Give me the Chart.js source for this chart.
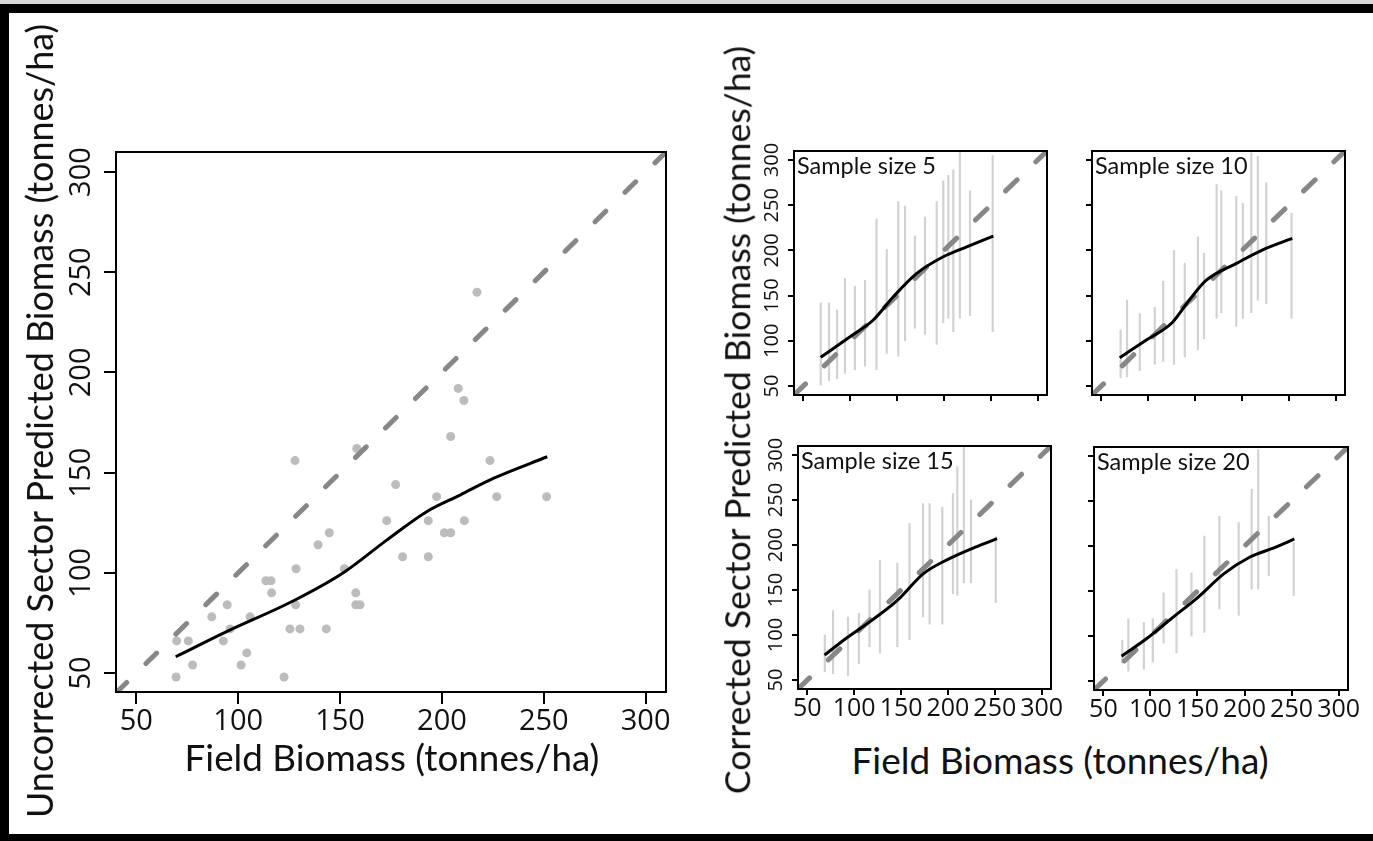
<!DOCTYPE html>
<html lang="en">
<head>
<meta charset="UTF-8">
<title>Field vs predicted biomass</title>
<script src="https://cdn.jsdelivr.net/npm/chart.js"></script>
<style>
  body { margin: 0; background: #fff; }
  #wrap { position: relative; width: 1373px; height: 841px; overflow: hidden; background: #fff; }
  #wrap canvas { position: absolute; }
  .bar { position: absolute; background: #000; }
  .ttl { position: absolute; white-space: nowrap; color: #111; line-height: 1; font-family: Lato, 'Open Sans', sans-serif;
         transform: translate(-50%, -50%); }
  .ttl.v { transform: translate(-50%, -50%) rotate(-90deg); }
</style>
</head>
<body>
<div id="wrap">
  <div class="bar" style="left:0;top:0;width:1373px;height:4px;background:#d8d8d8"></div>
  <div class="bar" style="left:0;top:4px;width:1373px;height:9px"></div>
  <div class="bar" style="left:0;top:4px;width:9px;height:837px"></div>
  <div class="bar" style="left:0;top:834px;width:1373px;height:7px"></div>

  <canvas id="big" width="700" height="800" style="left:0;top:0"></canvas>
  <canvas id="p5"></canvas>
  <canvas id="p10"></canvas>
  <canvas id="p15"></canvas>
  <canvas id="p20"></canvas>

  <div class="ttl v" id="tUy" style="left:40px;top:421px">Uncorrected Sector Predicted Biomass (tonnes/ha)</div>
  <div class="ttl" id="tUx" style="left:392px;top:757px">Field Biomass (tonnes/ha)</div>
  <div class="ttl v" id="tCy" style="left:737px;top:420px">Corrected Sector Predicted Biomass (tonnes/ha)</div>
  <div class="ttl" id="tCx" style="left:1060px;top:759px">Field Biomass (tonnes/ha)</div>
</div>

<script>
  // ---- left panel: field plots vs uncorrected sector prediction
  const fieldX = [208.0, 210.8, 204.3, 127.9, 158.2, 223.6, 177.3, 197.4, 226.9, 251.4,
                  172.9, 193.3, 211.0, 201.2, 204.3, 144.7, 139.2, 180.7, 193.3, 152.1,
                  128.4, 113.6, 116.1, 116.4, 157.7, 157.7, 159.8, 94.6, 128.2, 87.0,
                  105.8, 96.0, 125.4, 130.3, 143.2, 69.8, 75.5, 92.7, 104.2, 77.6,
                  101.4, 69.5, 122.5, 217.2];
  const uncorrY = [192, 186, 168, 156, 162, 156, 144, 138, 138, 138,
                   126, 126, 126, 120, 120, 120, 114, 108, 108, 102,
                   102, 96, 96, 90, 90, 84, 84, 84, 84, 78,
                   78, 72, 72, 72, 72, 66, 66, 66, 60, 54,
                   54, 48, 48, 240];
  const fitX = [69.3, 94.3, 127.9, 151.6, 172.9, 192.5, 208.9, 225.2, 251.7];
  const fitY = [58.1, 70.6, 86.4, 100.0, 116.3, 130.5, 138.8, 147.1, 157.9];

  // 1:1 reference line
  const oneToOne = [40, 310];
  const tickVals = [50, 100, 150, 200, 250, 300];

  // ---- right panels: spread of corrected predictions per field plot (min/max) and smoother
  const s5X  = [68.5, 77.4, 86, 94.4, 105, 115.8, 128, 139, 151.3, 158.5, 169, 179.8, 192.3, 199.3, 204.7, 210, 217, 227.8, 252];
  const s5Lo = [51, 56, 58, 64, 68, 72, 68, 86, 83, 100, 114, 107, 96, 120, 125, 110, 125, 128, 110];
  const s5Hi = [142, 142, 134, 169, 160, 167, 235, 201, 254, 249, 216, 237, 254, 277, 283, 289, 311, 266, 305];
  const f5X  = [68.5, 99.8, 124.6, 146, 171, 199.3, 224.3, 252.7];
  const f5Y  = [81.7, 104.5, 123, 148.7, 174.6, 193, 204, 215.9];

  const s10X  = [70.5, 77.4, 91, 107, 116, 127.5, 139, 153, 159.5, 173, 178, 194, 201, 210, 217, 226, 253];
  const s10Lo = [59, 60, 67, 74, 77, 74, 82, 90, 102, 125, 131, 116, 125, 131, 145, 141, 125];
  const s10Hi = [112, 145, 130, 137, 166, 200, 186, 215, 197, 273, 266, 260, 252, 308, 304, 275, 241];
  const f10X  = [69.6, 98, 125.4, 143.8, 162, 194.2, 221.6, 253.7];
  const f10Y  = [81.3, 100.8, 120, 145, 167, 185.7, 200.4, 213.3];

  const s15X  = [68.6, 77.4, 93.4, 105, 116.3, 127.5, 146, 159, 173.4, 180.4, 194, 205.4, 210, 217, 224.6, 251];
  const s15Lo = [59, 57, 55, 68, 87, 80, 87, 95, 120, 112, 112, 146, 144, 158, 158, 136];
  const s15Hi = [100, 127, 120, 124, 150, 183, 180, 224, 246, 246, 242, 257, 287, 309, 250, 209];
  const f15X  = [68.3, 91.1, 118.7, 146, 173.6, 201, 228.6, 252.4];
  const f15Y  = [77.6, 96.1, 116.3, 138.5, 168, 184.6, 197.4, 207];

  const s20X  = [70, 76.5, 93, 102.5, 114, 127.7, 143.6, 157.3, 173.3, 193.8, 207.6, 214.5, 225.8, 252.3];
  const s20Lo = [70, 61, 63, 71, 92, 81, 100, 104, 130, 123, 152, 152, 167, 145];
  const s20Hi = [95, 119, 115, 119, 148, 174, 170, 211, 233, 226, 263, 307, 233, 204];
  const f20X  = [69.3, 95.7, 123, 150.5, 177.9, 205.3, 232.6, 253];
  const f20Y  = [77.6, 96.9, 120, 143, 169, 187.5, 198.5, 207.8];

  const FONT = 'Lato';
  const TICKFONT = "'Open Sans'";
  const pts = (xs, ys) => xs.map((x, i) => ({x: x, y: ys[i]}));

  // frame + panel caption
  const boxPlugin = {
    id: 'box',
    afterDatasetsDraw(chart, args, opts) {
      const {ctx, chartArea: a} = chart;
      ctx.save();
      ctx.strokeStyle = '#000';
      ctx.lineWidth = 2;
      ctx.strokeRect(a.left, a.top, a.right - a.left, a.bottom - a.top);
      if (opts.label) {
        ctx.font = opts.size + 'px ' + FONT;
        ctx.fillStyle = '#111';
        ctx.textBaseline = 'alphabetic';
        ctx.fillText(opts.label, a.left + 3, a.top + 23);
      }
      ctx.restore();
    }
  };

  function axis(o) {
    return {
      type: 'linear', position: o.pos, min: o.min, max: o.max, offset: false,
      afterBuildTicks: s => { s.ticks = tickVals.map(v => ({value: v})); },
      afterFit: s => { if (o.pos === 'left') s.width = o.size; else s.height = o.size; },
      grid: {display: true, offset: false, drawOnChartArea: false, drawTicks: true, tickLength: o.tick, color: '#000', lineWidth: 2},
      border: {display: false},
      ticks: o.pos === 'left'
        ? {display: o.labels, autoSkip: false, minRotation: 90, maxRotation: 90, crossAlign: 'center',
           padding: o.pad, color: '#111', font: {family: TICKFONT, size: o.font}}
        : {display: o.labels, autoSkip: false, maxRotation: 0, padding: o.pad, color: '#111',
           font: {family: TICKFONT, size: o.font}}
    };
  }

  // ---- big panel
  new Chart(document.getElementById('big'), {
    type: 'scatter',
    data: {
      datasets: [
        {type: 'line', data: pts(fitX, fitY), borderColor: '#000', borderWidth: 3, pointRadius: 0,
         cubicInterpolationMode: 'monotone', showLine: true},
        {type: 'line', data: pts(oneToOne, oneToOne), borderColor: '#878787', borderWidth: 5,
         borderDash: [15, 27], borderCapStyle: 'round', pointRadius: 0, showLine: true},
        {data: pts(fieldX, uncorrY), backgroundColor: '#bcbcbc', borderWidth: 0, pointRadius: 4.5}
      ]
    },
    options: {
      responsive: false, animation: false, events: [],
      layout: {padding: {left: 46, top: 152, right: 34, bottom: 48}},
      plugins: {legend: {display: false}, tooltip: {enabled: false}, box: {}},
      scales: {
        x: axis({pos: 'bottom', min: 40, max: 310, size: 60, tick: 12, labels: true, pad: 0, font: 29}),
        y: axis({pos: 'left', min: 40.5, max: 310, size: 70, tick: 12, labels: true, pad: -3, font: 29})
      }
    },
    plugins: [boxPlugin]
  });

  // ---- small panels
  function panel(id, area, colX, lo, hi, fx, fy, label, showX, showY) {
    const cv = document.getElementById(id);
    const mL = 50, mT = 15, mR = 25, mB = 45;
    cv.width = (area[2] - area[0]) + mL + mR;
    cv.height = (area[3] - area[1]) + mT + mB;
    cv.style.left = (area[0] - mL) + 'px';
    cv.style.top = (area[1] - mT) + 'px';
    new Chart(cv, {
      type: 'scatter',
      data: {
        datasets: [
          {type: 'line', data: pts(fx, fy), borderColor: '#000', borderWidth: 3, pointRadius: 0,
           cubicInterpolationMode: 'monotone', showLine: true},
          {type: 'line', data: pts(oneToOne, oneToOne), borderColor: '#878787', borderWidth: 5,
           borderDash: [16, 26], borderCapStyle: 'round', pointRadius: 0, showLine: true},
          {type: 'bar', data: colX.map((x, i) => ({x: x, y: [lo[i], hi[i]]})), backgroundColor: '#d2d2d2',
           barThickness: 1.5, grouped: false}
        ]
      },
      options: {
        responsive: false, animation: false, events: [],
        layout: {padding: {left: mL - 40, top: mT, right: mR, bottom: mB - 35}},
        plugins: {legend: {display: false}, tooltip: {enabled: false}, box: {label: label, size: 23.5}},
        scales: {
          x: axis({pos: 'bottom', min: 40, max: 310, size: 35, tick: 6, labels: showX, pad: -1, font: 25}),
          y: axis({pos: 'left', min: 40, max: 310, size: 40, tick: 6, labels: showY, pad: -1, font: 20})
        }
      },
      plugins: [boxPlugin]
    });
  }

  panel('p5',  [794, 151, 1047, 395], s5X,  s5Lo,  s5Hi,  f5X,  f5Y,  'Sample size 5',  false, true);
  panel('p10', [1092, 151, 1345, 395], s10X, s10Lo, s10Hi, f10X, f10Y, 'Sample size 10', false, false);
  panel('p15', [798, 446, 1051, 689], s15X, s15Lo, s15Hi, f15X, f15Y, 'Sample size 15', true, true);
  panel('p20', [1094, 447, 1348, 690], s20X, s20Lo, s20Hi, f20X, f20Y, 'Sample size 20', true, false);

  // size the axis titles to the length they have in the figure
  function fit(id, len) {
    const el = document.getElementById(id);
    const c = document.createElement('canvas').getContext('2d');
    c.font = '100px ' + FONT;
    el.style.fontSize = (100 * len / c.measureText(el.textContent).width).toFixed(1) + 'px';
  }
  fit('tUy', 795);
  fit('tUx', 415);
  fit('tCy', 750);
  fit('tCx', 417);
</script>
</body>
</html>
